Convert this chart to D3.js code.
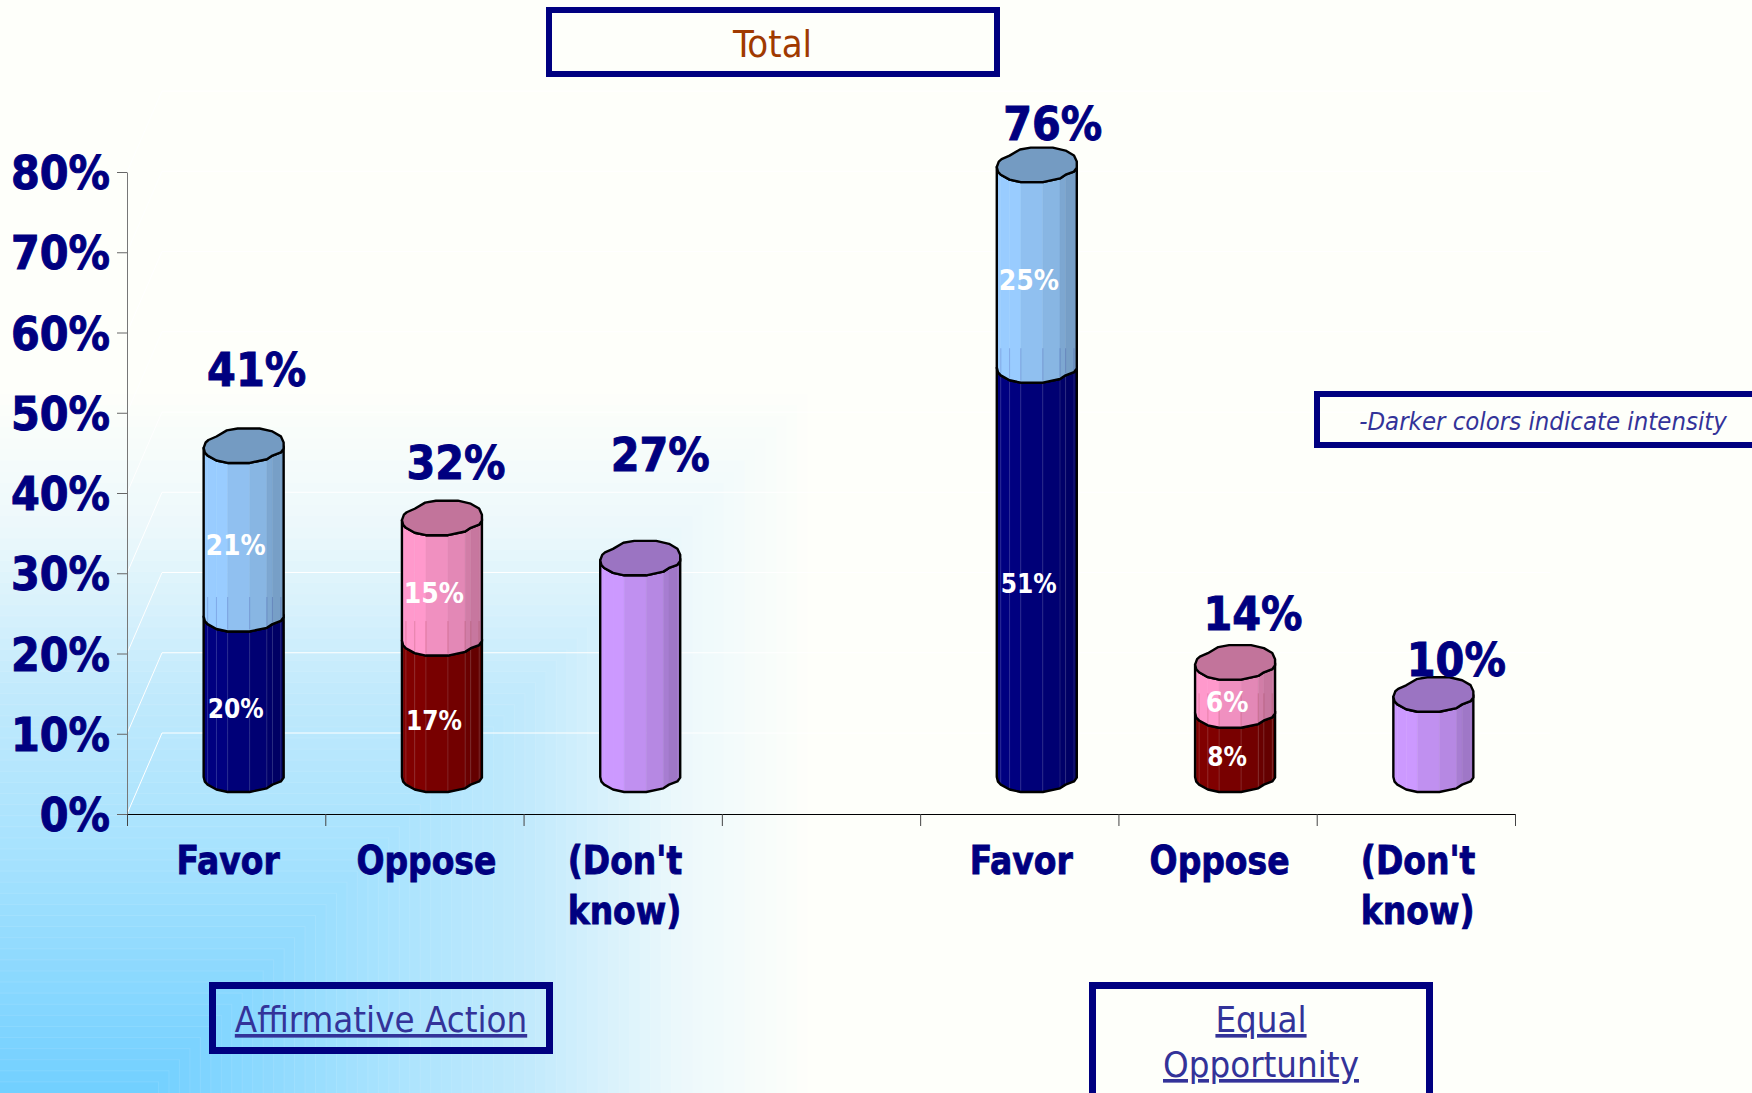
<!DOCTYPE html>
<meta charset="utf-8">
<style>
body { margin: 0; background: #fefffa; overflow: hidden; }
svg { display: block; }
text { font-family: "DejaVu Sans", sans-serif; font-stretch: condensed; }
.big { font-size: 46px; font-weight: bold; fill: #000080; stroke: #000080; stroke-width: 0.9px; }
.cat { font-size: 39px; font-weight: bold; fill: #000080; stroke: #000080; stroke-width: 0.8px; }
</style>
<svg width="1752" height="1093"></svg>
<script src="https://d3js.org/d3.v7.min.js"></script>
<script>

// values
var categories = ["Favor", "Oppose", "(Don't know)", "Favor", "Oppose", "(Don't know)"];
var slotIndex = [0, 1, 2, 4, 5, 6];
var totals = [41, 32, 27, 76, 14, 10];
var strong = [20, 17, 27, 51, 8, 10];
var somewhat = [21, 15, 0, 25, 6, 0];
var yTicks = [0, 10, 20, 30, 40, 50, 60, 70, 80];

// colour of each column, [lower part, upper part]
var palette = [
  ["#000080", "#99ccff"], ["#800000", "#ff99cc"], ["#cc99ff", null],
  ["#000080", "#99ccff"], ["#800000", "#ff99cc"], ["#cc99ff", null]
];

// hand placed total labels
var totalDx = [13, 14, 20, 16, 18, 23];
var totalBase = [386, 479, 471, 140, 630, 676];

var svg = d3.select("svg");

var y = d3.scaleLinear().domain([0, 80]).range([814, 172]);
var xEdge = d3.scaleLinear().domain([0, 7]).range([127, 1515]);
var x = d3.scaleBand().domain(d3.range(7)).range([127, 1515]);

var depthX = 35, depthY = 81, barLift = 39;
var rx = 40, ry = 17.5;

// background, stepped square gradient from the bottom, centred a bit right of the corner
var bgSteps = d3.range(64, 0, -1).map(function(d) { return d / 64; });
var bgColor = d3.scaleLinear()
    .domain([0, 0.34, 0.58, 0.8, 1])
    .range(["#70cfff", "#a6e2fe", "#c2eafc", "#ecf8fb", "#fefffa"]);
svg.append("g").selectAll("rect")
    .data(bgSteps)
    .enter().append("rect")
    .attr("x", -2)
    .attr("y", function(d) { return 1093 - d * 710; })
    .attr("width", function(d) { return 150 + d * 670; })
    .attr("height", function(d) { return d * 710 + 2; })
    .attr("fill", function(d) { return bgColor(d); })
    .attr("stroke", "#fff")
    .attr("stroke-opacity", function(d) { return d < 0.8 ? 0.1 : 0; });

// back wall lines
svg.append("g").selectAll("path")
    .data(yTicks)
    .enter().append("path")
    .attr("fill", "none")
    .attr("stroke", "#fff")
    .attr("stroke-width", 1)
    .attr("d", function(d) {
      return "M" + xEdge(0) + "," + y(d) + "L" + (xEdge(0) + depthX) + "," + (y(d) - depthY) +
             "L" + (xEdge(7) + depthX) + "," + (y(d) - depthY);
    });

// axes
var yAxis = svg.append("g")
    .attr("transform", "translate(" + xEdge(0) + ",0)")
    .call(d3.axisLeft(y).tickValues(yTicks).tickSize(10).tickSizeOuter(0).tickPadding(7)
      .tickFormat(function(d) { return d + "%"; }));
yAxis.select(".domain").attr("stroke", "#777").attr("stroke-width", 1);
yAxis.selectAll("line").attr("stroke", "#666");
yAxis.selectAll("text").attr("class", "big").attr("dy", "0.36em");
yAxis.attr("font-family", null).attr("font-size", null);

var xAxis = svg.append("g")
    .attr("transform", "translate(0," + y(0) + ")")
    .call(d3.axisBottom(xEdge).tickValues(d3.range(8)).tickSize(12).tickSizeOuter(0).tickFormat(""));
xAxis.select(".domain").attr("stroke", "#000").attr("stroke-width", 1);
xAxis.selectAll("line").attr("stroke", "#444");

// category labels, squeezed a little as the original face is narrower
function catText(s, tx, ty, anchor) {
  var t = svg.append("text").attr("class", "cat")
    .attr("x", tx).attr("y", ty).attr("text-anchor", anchor).text(s);
  t.attr("lengthAdjust", "spacingAndGlyphs")
    .attr("textLength", t.node().getComputedTextLength() * 0.94);
}
categories.forEach(function(name, i) {
  var cx = x(slotIndex[i]) + x.bandwidth() / 2 + 2;
  if (name == "(Don't know)") {
    catText("(Don't", cx - 57, 874, "start");
    catText("know)", cx - 57, 924, "start");
  } else {
    catText(name, cx, 874, "middle");
  }
});

// columns: outline of the faceted cylinder as parts of radius
var topRing = [[-1, 0.11], [-0.95, -0.2], [-0.88, -0.34], [-0.68, -0.54], [-0.42, -0.89], [-0.15, -1],
               [0.4, -1], [0.72, -0.83], [0.93, -0.55], [1, -0.2], [1, 0.03]];
var frontArc = [[-1, 0.11], [-0.97, 0.38], [-0.9, 0.55], [-0.68, 0.83], [-0.4, 0.97], [0.15, 0.97],
                [0.58, 0.76], [0.72, 0.55], [0.93, 0.37], [1, 0.15], [1, 0.03]];
var topShade = 0.76;

function facetShade(m) {
  return m < -0.4 ? 1 : m < 0.15 ? 0.94 : m < 0.58 ? 0.89 : m < 0.72 ? 0.82 : 0.78;
}

function px(p, cx) { return cx + p[0] * rx; }
function py(p, cy) { return cy + p[1] * ry; }

function shade(col, k) {
  var c = d3.rgb(col);
  return d3.rgb(c.r * k, c.g * k, c.b * k).toString();
}

function ringPath(cx, cy) {
  var pts = topRing.concat(frontArc.slice().reverse().slice(1, -1));
  return "M" + pts.map(function(p) { return px(p, cx) + "," + py(p, cy); }).join("L") + "Z";
}

function bodyPath(cx, y0, y1) {
  var low = frontArc.map(function(p) { return px(p, cx) + "," + py(p, y0); });
  var high = frontArc.slice().reverse().map(function(p) { return px(p, cx) + "," + py(p, y1); });
  return "M" + low.concat(high).join("L") + "Z";
}

function drawPart(g, cx, v0, v1, col) {
  var y0 = y(v0) - barLift, y1 = y(v1) - barLift;
  var dark = d3.hsl(col).l < 0.3;
  frontArc.slice(0, -1).forEach(function(p, i) {
    var q = frontArc[i + 1];
    var k = facetShade((p[0] + q[0]) / 2);
    g.append("path")
      .attr("d", "M" + px(p, cx) + "," + py(p, y0) + "L" + px(q, cx) + "," + py(q, y0) +
                 "L" + px(q, cx) + "," + py(q, y1) + "L" + px(p, cx) + "," + py(p, y1) + "Z")
      .attr("fill", shade(col, k))
      .attr("stroke", shade(col, k))
      .attr("stroke-width", 0.5);
    if (dark && i > 1) {
      g.append("line")
        .attr("x1", px(p, cx)).attr("x2", px(p, cx))
        .attr("y1", py(p, y0)).attr("y2", py(p, y1))
        .attr("stroke", "#fff").attr("stroke-opacity", 0.12);
    }
  });
  g.append("path").attr("d", bodyPath(cx, y0, y1))
    .attr("fill", "none").attr("stroke", "#000").attr("stroke-width", 2.4)
    .attr("stroke-linejoin", "round");
}

totals.forEach(function(total, i) {
  var cx = x(slotIndex[i]) + x.bandwidth() / 2 + depthX / 2;
  var g = svg.append("g");
  var lower = strong[i], upper = somewhat[i];
  var cols = palette[i];
  drawPart(g, cx, 0, lower, cols[0]);
  if (upper > 0) {
    drawPart(g, cx, lower, total, cols[1]);
    // back edges of the lower part showing through
    var yb = y(lower) - barLift;
    frontArc.slice(2, -2).forEach(function(p) {
      g.append("line")
        .attr("x1", px(p, cx)).attr("x2", px(p, cx))
        .attr("y1", py(p, yb) - 2).attr("y2", yb - ry)
        .attr("stroke", cols[0]).attr("stroke-opacity", 0.18);
    });
  }
  var topCol = upper > 0 ? cols[1] : cols[0];
  g.append("path").attr("d", ringPath(cx, y(total) - barLift))
    .attr("fill", shade(topCol, topShade))
    .attr("stroke", "#000").attr("stroke-width", 2.4)
    .attr("stroke-linejoin", "round");

  // inner labels
  if (upper > 0) {
    var lowMid = (y(0) + y(lower)) / 2 - barLift;
    var upMid = (y(lower) + y(total)) / 2 - barLift;
    g.append("text").text(lower + "%")
      .attr("x", cx - 8).attr("y", lowMid + 23)
      .attr("text-anchor", "middle").attr("font-size", 26)
      .attr("font-weight", "bold").attr("fill", "#fff");
    g.append("text").text(upper + "%")
      .attr("x", cx - 8).attr("y", upMid + 25)
      .attr("text-anchor", "middle").attr("font-size", 28)
      .attr("font-weight", "bold").attr("fill", "#fff");
  }

  svg.append("text").attr("class", "big").text(total + "%")
    .attr("x", cx + totalDx[i]).attr("y", totalBase[i])
    .attr("text-anchor", "middle");
});

// boxes
function box(bx, by, w, h, sw) {
  svg.append("rect")
    .attr("x", bx + sw / 2).attr("y", by + sw / 2)
    .attr("width", w - sw).attr("height", h - sw)
    .attr("fill", "none").attr("stroke", "#000080").attr("stroke-width", sw);
}
function label(s, tx, ty, size, col, extra) {
  var t = svg.append("text").text(s)
    .attr("x", tx).attr("y", ty).attr("font-size", size).attr("fill", col)
    .attr("text-anchor", "middle");
  if (extra) t.style(extra[0], extra[1]);
  return t;
}

box(546, 7, 454, 70, 6);
label("Total", 772.5, 57, 38, "#a03a00");

box(209, 982, 344, 72, 7);
label("Affirmative Action", 381, 1032, 36.3, "#333399", ["text-decoration", "underline"]);

box(1089, 982, 344, 118, 7);
label("Equal", 1261, 1032, 36.3, "#333399", ["text-decoration", "underline"]);
label("Opportunity", 1261, 1077, 36.3, "#333399", ["text-decoration", "underline"]);

box(1314, 391, 460, 57, 6);
label("-Darker colors indicate intensity", 1543, 430, 25.5, "#333399", ["font-style", "italic"]);

</script>
